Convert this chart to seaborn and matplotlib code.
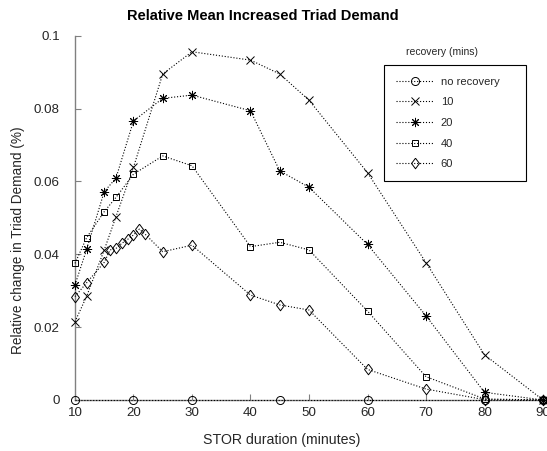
import numpy as np
import pandas as pd
import matplotlib
matplotlib.use("Agg")
import matplotlib.pyplot as plt
import seaborn as sns

# ---- data ----
x_none = [10, 20, 30, 45, 60, 80, 90]
rec_none = [0, 0, 0, 0, 0, 0, 0]

x_main = [10, 12, 15, 17, 20, 25, 30, 40, 45, 50, 60, 70, 80, 90]
rec10 = [0.0215, 0.0285, 0.0412, 0.0503, 0.0639, 0.0895, 0.0956, 0.0933,
         0.0895, 0.0823, 0.0624, 0.0377, 0.0124, 0.0]
rec20 = [0.0316, 0.0414, 0.0572, 0.0609, 0.0766, 0.0828, 0.0837, 0.0794,
         0.0629, 0.0584, 0.0427, 0.0231, 0.0021, 0.0]
rec40 = [0.0375, 0.0446, 0.0517, 0.0556, 0.0620, 0.0670, 0.0643, 0.0421,
         0.0433, 0.0412, 0.0244, 0.0064, 0.0003, 0.0]

x60 = [10, 12, 15, 16, 17, 18, 19, 20, 21, 22, 25, 30, 40, 45, 50, 60, 70, 80, 90]
rec60 = [0.0284, 0.0322, 0.0378, 0.0412, 0.0416, 0.0430, 0.0441, 0.0453,
         0.0469, 0.0455, 0.0407, 0.0425, 0.0288, 0.0261, 0.0247, 0.0084,
         0.0030, 0.0001, 0.0]

labels = ["no recovery", "10", "20", "40", "60"]
xticks = [10, 20, 30, 40, 50, 60, 70, 80, 90]
yticks = [0, 0.02, 0.04, 0.06, 0.08, 0.1]
ytick_labels = ["0", "0.02", "0.04", "0.06", "0.08", "0.1"]

diamond = [(0, 1), (0.75, 0), (0, -1), (-0.75, 0), (0, 1)]
series = [
    (x_none, rec_none, labels[0], "o", 5.8),
    (x_main, rec10, labels[1], "x", 5.8),
    (x_main, rec20, labels[2], (8, 2, 0), 6.6),
    (x_main, rec40, labels[3], "s", 5.0),
    (x60, rec60, labels[4], diamond, 7.6),
]

sns.set_theme(style="white")
plt.rcParams["font.family"] = ["Liberation Sans", "DejaVu Sans"]

fig = plt.figure(figsize=(5.47, 4.51), dpi=100)
ax = fig.add_axes([0.1371, 0.1131, 0.8556, 0.8077])

for xs, ys, lab, mk, ms in series:
    df = pd.DataFrame({"x": xs, "y": ys})
    sns.lineplot(data=df, x="x", y="y", ax=ax, label=lab, color="black",
                 linestyle=":", linewidth=0.8, marker=mk, markersize=ms,
                 markerfacecolor="none", markeredgecolor="black",
                 markeredgewidth=0.7, clip_on=False, zorder=3)

ax.set_xlim(10, 90)
ax.set_ylim(0, 0.1)
ax.set_xticks(xticks)
ax.set_xticklabels([str(t) for t in xticks])
ax.set_yticks(yticks)
ax.set_yticklabels(ytick_labels)

for s in ["top", "right"]:
    ax.spines[s].set_visible(False)
for s in ["left", "bottom"]:
    ax.spines[s].set_color("#808080")
    ax.spines[s].set_linewidth(1.0)

ax.tick_params(axis="both", direction="in", length=4, width=0.8,
               color="#808080", labelsize=9.6, labelcolor="#262626")
ax.tick_params(axis="x", pad=5)
ax.tick_params(axis="y", pad=11)
ax.tick_params(axis="both", which="both", bottom=True, left=True)

ax.set_xlabel("")
ax.set_ylabel("")
fig.text(281.7 / 547, 1 - 440 / 451, "STOR duration (minutes)", ha="center",
         va="center", fontsize=10.2, color="#262626")
fig.text(18 / 547, 1 - 240 / 451, "Relative change in Triad Demand (%)",
         ha="center", va="center", rotation=90, fontsize=9.8, color="#262626")
fig.text(263 / 547, 1 - 16 / 451, "Relative Mean Increased Triad Demand",
         ha="center", va="center", fontsize=10.5, fontweight="bold",
         color="black")
fig.text(441.7 / 547, 1 - 52.3 / 451, "recovery (mins)", ha="center",
         va="center", fontsize=7.5, color="#262626")

x0 = 384.3 / 547
x1 = 525.5 / 547
ytop = 1 - 65 / 451
leg = ax.legend(loc="upper left", bbox_to_anchor=(x0, ytop - 0.3, x1 - x0, 0.3),
                bbox_transform=fig.transFigure, mode="expand", borderaxespad=0,
                fontsize=8, numpoints=1, handlelength=3.35, handletextpad=0.67,
                labelspacing=0.96, borderpad=1.05,
                fancybox=False, framealpha=1, edgecolor="black")
leg.get_frame().set_linewidth(0.8)
for t in leg.get_texts():
    t.set_color("#262626")

fig.savefig("out.png", dpi=100)
